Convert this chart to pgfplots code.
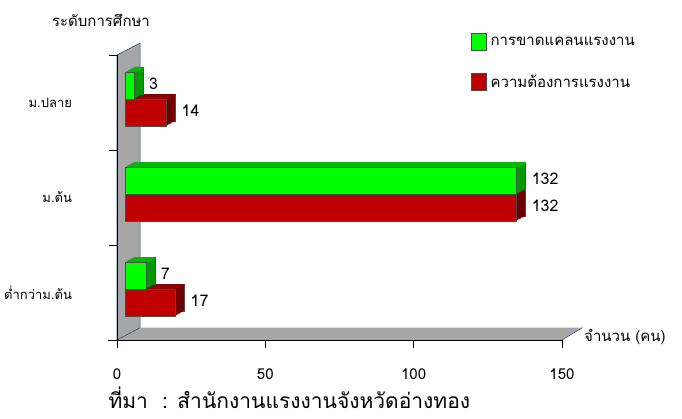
\documentclass[border=0pt]{standalone}
\usepackage{fontspec}
\setmainfont{Loma}[Script=Thai]
\usepackage{pgfplots}
\usepackage{pgfplotstable}
\pgfplotsset{compat=1.18}
\definecolor{gfront}{HTML}{00FF00}
\definecolor{gside}{HTML}{009A00}
\definecolor{gtop}{HTML}{00B800}
\definecolor{rfront}{HTML}{C00000}
\definecolor{rside}{HTML}{6E0000}
\definecolor{rtop}{HTML}{8C0000}
\definecolor{wallc}{HTML}{A6A6A6}
\definecolor{walledge}{HTML}{2E4A7A}

\pgfplotstableread{
y green red
0 7 17
1 132 132
2 3 14
}\datatable

\begin{document}
\begin{tikzpicture}[x=1pt,y=1pt]
\useasboundingbox (0,0) rectangle (682,418);
\begin{axis}[
  at={(117pt,78pt)}, anchor=south west,
  scale only axis, width=445pt, height=285pt,
  xmin=0, xmax=150, ymin=-0.5, ymax=2.5,
  clip=false,
  axis line style={draw=none},
  /pgf/number format/assume math mode=true,
  xtick={0,50,100,150}, xtick pos=bottom,
  ytick={-0.5,0.5,1.5,2.5}, yticklabels={}, ytick pos=left,
  tick align=center, major tick length=16pt,
  tick style={black, line width=0.6pt},
  xticklabel style={font=\fontsize{15}{18}\selectfont, yshift=-17pt},
  extra y ticks={0,1,2},
  extra y tick labels={ต่ำกว่าม.ต้น,ม.ต้น,ม.ปลาย},
  extra y tick style={tick style={draw=none}, yticklabel style={font=\fontsize{13}{16}\selectfont, xshift=-33.5pt}},
  ylabel={ระดับการศึกษา},
  ylabel style={rotate=-90, at={(rel axis cs:-0.036,1.123)}, anchor=center, font=\fontsize{15}{18}\selectfont},
  xlabel={จำนวน (คน)},
  xlabel style={at={(rel axis cs:1.042,0.012)}, anchor=west, font=\fontsize{15}{18}\selectfont},
  legend style={at={(rel axis cs:0.7955,1.077)}, anchor=north west, draw=none, fill=none,
    font=\fontsize{15}{18}\selectfont, row sep=22pt, inner sep=0pt,
    nodes={inner xsep=4pt}},
  legend cell align=left,
]
% wall and floor
\fill[wallc] (axis cs:0,-0.5) -- (axis cs:150,-0.5) -- (axis cs:156.9,-0.37) -- (axis cs:7.8,-0.37) -- cycle;
\fill[wallc, draw=walledge, line width=0.6pt] (axis cs:0,-0.5) -- (axis cs:0,2.5) -- (axis cs:7.8,2.626) -- (axis cs:7.8,-0.37) -- cycle;
\draw[black, line width=0.8pt] (axis cs:0,-0.5) -- (axis cs:0,2.5);
\draw[black, line width=0.8pt] (axis cs:-3.03,-0.5) -- (axis cs:150,-0.5);
\draw[walledge, line width=0.5pt] (axis cs:150,-0.5) -- (axis cs:156.9,-0.37);

% ---- red series (ความต้องการแรงงาน): side / back layers
\addplot[xbar, bar width=27pt, bar shift=-13.5pt, fill=rside, draw=black!70, line width=0.4pt,
  xshift=17pt, yshift=8.5pt, forget plot] table[x=red, y=y] {\datatable};
\pgfplotsinvokeforeach{0.833,0.667,0.5,0.333,0.167}{
  \addplot[xbar, bar width=27pt, bar shift=-13.5pt, fill=rside, draw=none,
    xshift=8pt+9pt*#1, yshift=3.5pt+5pt*#1, forget plot] table[x=red, y=y] {\datatable};
}
% top face strips
\pgfplotsinvokeforeach{1,0.833,0.667,0.5,0.333,0.167}{
  \addplot[xbar, bar width=1.6pt, bar shift=-0.8pt, fill=rtop, draw=none,
    xshift=8pt+9pt*#1, yshift=3.5pt+5pt*#1, forget plot] table[x=red, y=y] {\datatable};
}
% front face
\addplot[xbar, bar width=27pt, bar shift=-13.5pt, fill=rfront, draw=black!70, line width=0.4pt,
  xshift=8pt, yshift=3.5pt, forget plot,
  nodes near coords, nodes near coords align=horizontal,
  every node near coord/.append style={anchor=west, inner sep=0pt, xshift=15pt, yshift=-11.5pt, black, font=\fontsize{16}{18}\selectfont}]
  table[x=red, y=y] {\datatable};

% ---- green series (การขาดแคลนแรงงาน)
\addplot[xbar, bar width=27pt, bar shift=13.5pt, fill=gside, draw=black!70, line width=0.4pt,
  xshift=17pt, yshift=8.5pt, forget plot] table[x=green, y=y] {\datatable};
\pgfplotsinvokeforeach{0.833,0.667,0.5,0.333,0.167}{
  \addplot[xbar, bar width=27pt, bar shift=13.5pt, fill=gside, draw=none,
    xshift=8pt+9pt*#1, yshift=3.5pt+5pt*#1, forget plot] table[x=green, y=y] {\datatable};
}
\pgfplotsinvokeforeach{1,0.833,0.667,0.5,0.333,0.167}{
  \addplot[xbar, bar width=1.6pt, bar shift=26.2pt, fill=gtop, draw=none,
    xshift=8pt+9pt*#1, yshift=3.5pt+5pt*#1, forget plot] table[x=green, y=y] {\datatable};
}
\addplot[xbar, bar width=27pt, bar shift=13.5pt, fill=gfront, draw=black!70, line width=0.4pt,
  xshift=8pt, yshift=3.5pt, forget plot,
  nodes near coords, nodes near coords align=horizontal,
  every node near coord/.append style={anchor=west, inner sep=0pt, xshift=15pt, yshift=15.5pt, black, font=\fontsize{16}{18}\selectfont}]
  table[x=green, y=y] {\datatable};

\addlegendimage{legend image code/.code={\draw[fill=gfront, draw=black!70] (0pt,-8.5pt) rectangle (15pt,8.5pt);}}
\addlegendentry{การขาดแคลนแรงงาน}
\addlegendimage{legend image code/.code={\draw[fill=rfront, draw=black!70] (0pt,-8.5pt) rectangle (15pt,8.5pt);}}
\addlegendentry{ความต้องการแรงงาน}

\node[anchor=west, font=\fontsize{21}{24}\selectfont] at (rel axis cs:-0.027,-0.2035) {ที่มา\ \ : สำนักงานแรงงานจังหวัดอ่างทอง};
\end{axis}
\end{tikzpicture}
\end{document}
